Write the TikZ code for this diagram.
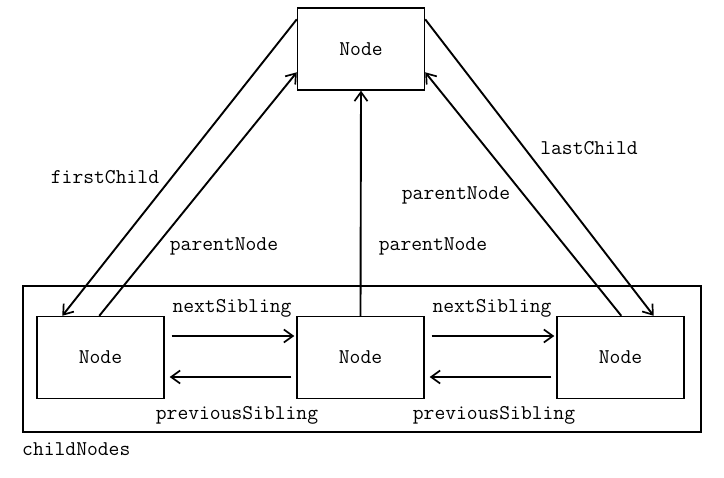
\documentclass[tikz,border=0pt]{standalone}
\usetikzlibrary{arrows.meta,calc}
\begin{document}
\begin{tikzpicture}[x=1pt,y=-1pt,
  box/.style={draw,line width=1.4pt,minimum width=127pt,minimum height=82pt,inner sep=0pt,font=\fontsize{21}{23}\selectfont\ttfamily},
  lbl/.style={font=\fontsize{21}{23}\selectfont\ttfamily,inner sep=0pt},
  conn/.style={line width=1.9pt,-{Straight Barb[length=9pt,width=13pt,line width=1.7pt]}}]
\useasboundingbox (0,0) rectangle (724,478);
\node[draw,line width=2.8pt,minimum width=678pt,minimum height=146pt,inner sep=0pt] (cont) at (362,359) {};
\node[box] (top) at (361,49) {Node};
\node[box] (left) at (100.5,357.5) {Node};
\node[box] (mid) at (360.5,357.5) {Node};
\node[box] (right) at (620.5,357.5) {Node};
% diagonals
\draw[conn] ($(top.north west)+(0,12)$) -- ($(left.north west)+(26,0)$);
\draw[conn] ($(left.north west)+(63,0)$) -- ($(top.north west)+(0,65)$);
\draw[conn] ($(top.north east)+(0,12)$) -- ($(right.north east)+(-31,0)$);
\draw[conn] ($(right.north west)+(65,0)$) -- ($(top.north east)+(0,65)$);
\draw[conn] (mid.north) -- (top.south);
% siblings
\draw[conn] ($(left.east)+(7,-21.5)$) -- ($(mid.west)+(-2,-21.5)$);
\draw[conn] ($(mid.west)+(-5,19.5)$) -- ($(left.east)+(5,19.5)$);
\draw[conn] ($(mid.east)+(7,-21.5)$) -- ($(right.west)+(-2,-21.5)$);
\draw[conn] ($(right.west)+(-5,19.5)$) -- ($(mid.east)+(5,19.5)$);
% labels
\node[lbl] (l1) at (105,177) {firstChild};
\node[lbl] (l2) at (224,246) {parentNode};
\node[lbl] (l3) at (433,246) {parentNode};
\node[lbl] (l4) at (456,195) {parentNode};
\node[lbl] (l5) at (589,148) {lastChild};
\node[lbl] (l6) at (232,308) {nextSibling};
\node[lbl] (l7) at (237,415) {previousSibling};
\node[lbl] (l8) at (492,308) {nextSibling};
\node[lbl] (l9) at (494,415) {previousSibling};
\node[lbl,anchor=west] (l10) at (22,449) {childNodes};
\end{tikzpicture}
\end{document}
